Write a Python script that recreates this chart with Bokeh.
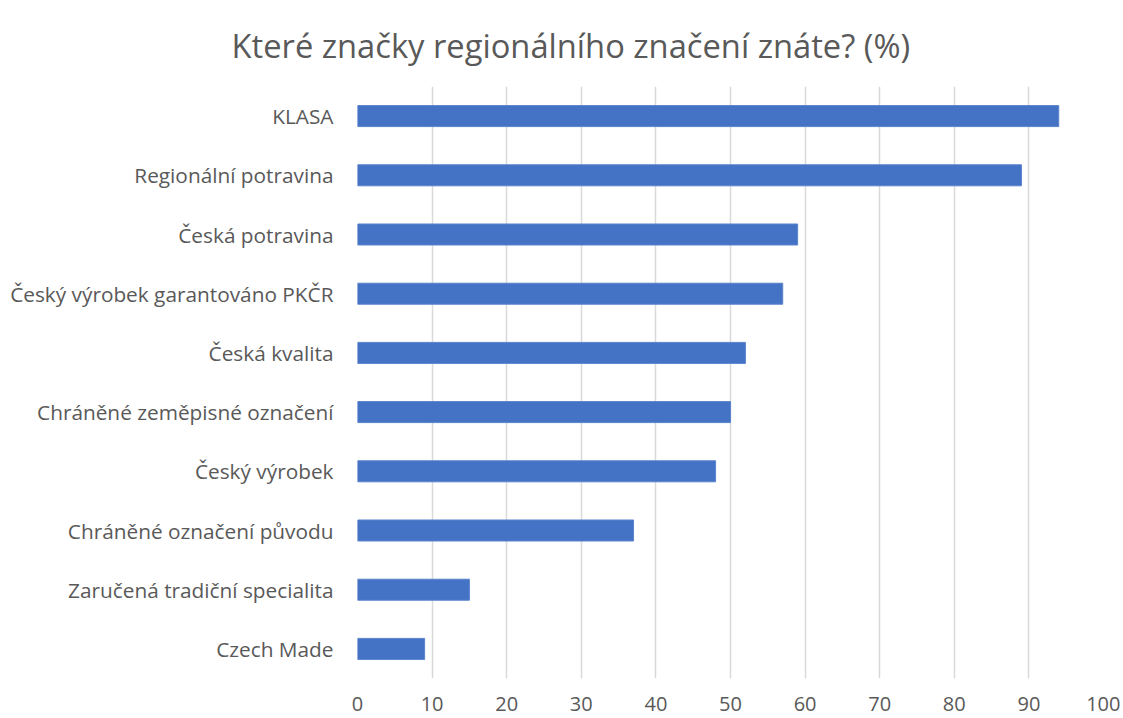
from bokeh.plotting import figure
from bokeh.models import FactorRange, Range1d, FixedTicker
from bokeh.embed import file_html
from bokeh.resources import INLINE

categories = [
    "KLASA",
    "Regionální potravina",
    "Česká potravina",
    "Český výrobek garantováno PKČR",
    "Česká kvalita",
    "Chráněné zeměpisné označení",
    "Český výrobek",
    "Chráněné označení původu",
    "Zaručená tradiční specialita",
    "Czech Made",
]
values = [94, 89, 59, 57, 52, 50, 48, 37, 15, 9]
x_ticks = [0, 10, 20, 30, 40, 50, 60, 70, 80, 90, 100]
title_text = "Které značky regionálního značení znáte? (%)"

TEXT = "#595959"
FONT = "Open Sans"

p = figure(
    width=1120, height=718,
    y_range=FactorRange(*categories[::-1]),
    x_range=Range1d(0, 100),
    output_backend="svg", toolbar_location=None,
    min_border_left=357, min_border_right=17,
    min_border_top=86, min_border_bottom=40,
)

p.hbar(y=categories, right=values, left=0, height=0.355,
       fill_color="#4472C4", line_color="#5B84CC", line_width=1)

p.title.text = title_text
p.title.text_font = FONT
p.title.text_font_size = "32.7px"
p.title.text_font_style = "normal"
p.title.text_color = TEXT
p.title.align = "left"
p.title.offset = -126
p.title.standoff = 37

p.outline_line_color = None
p.ygrid.grid_line_color = None
p.xgrid.grid_line_color = "#D9D9D9"
p.xgrid.grid_line_width = 1.5
p.xaxis.ticker = FixedTicker(ticks=x_ticks)

for ax in (p.xaxis[0], p.yaxis[0]):
    ax.axis_line_color = None
    ax.major_tick_line_color = None
    ax.minor_tick_line_color = None
    ax.major_label_text_font = FONT
    ax.major_label_text_color = TEXT

p.xaxis.major_label_text_font_size = "20px"
p.yaxis.major_label_text_font_size = "20.8px"
p.xaxis.major_label_standoff = 12
p.yaxis.major_label_standoff = 18

open("out.html", "w").write(file_html(p, INLINE))
